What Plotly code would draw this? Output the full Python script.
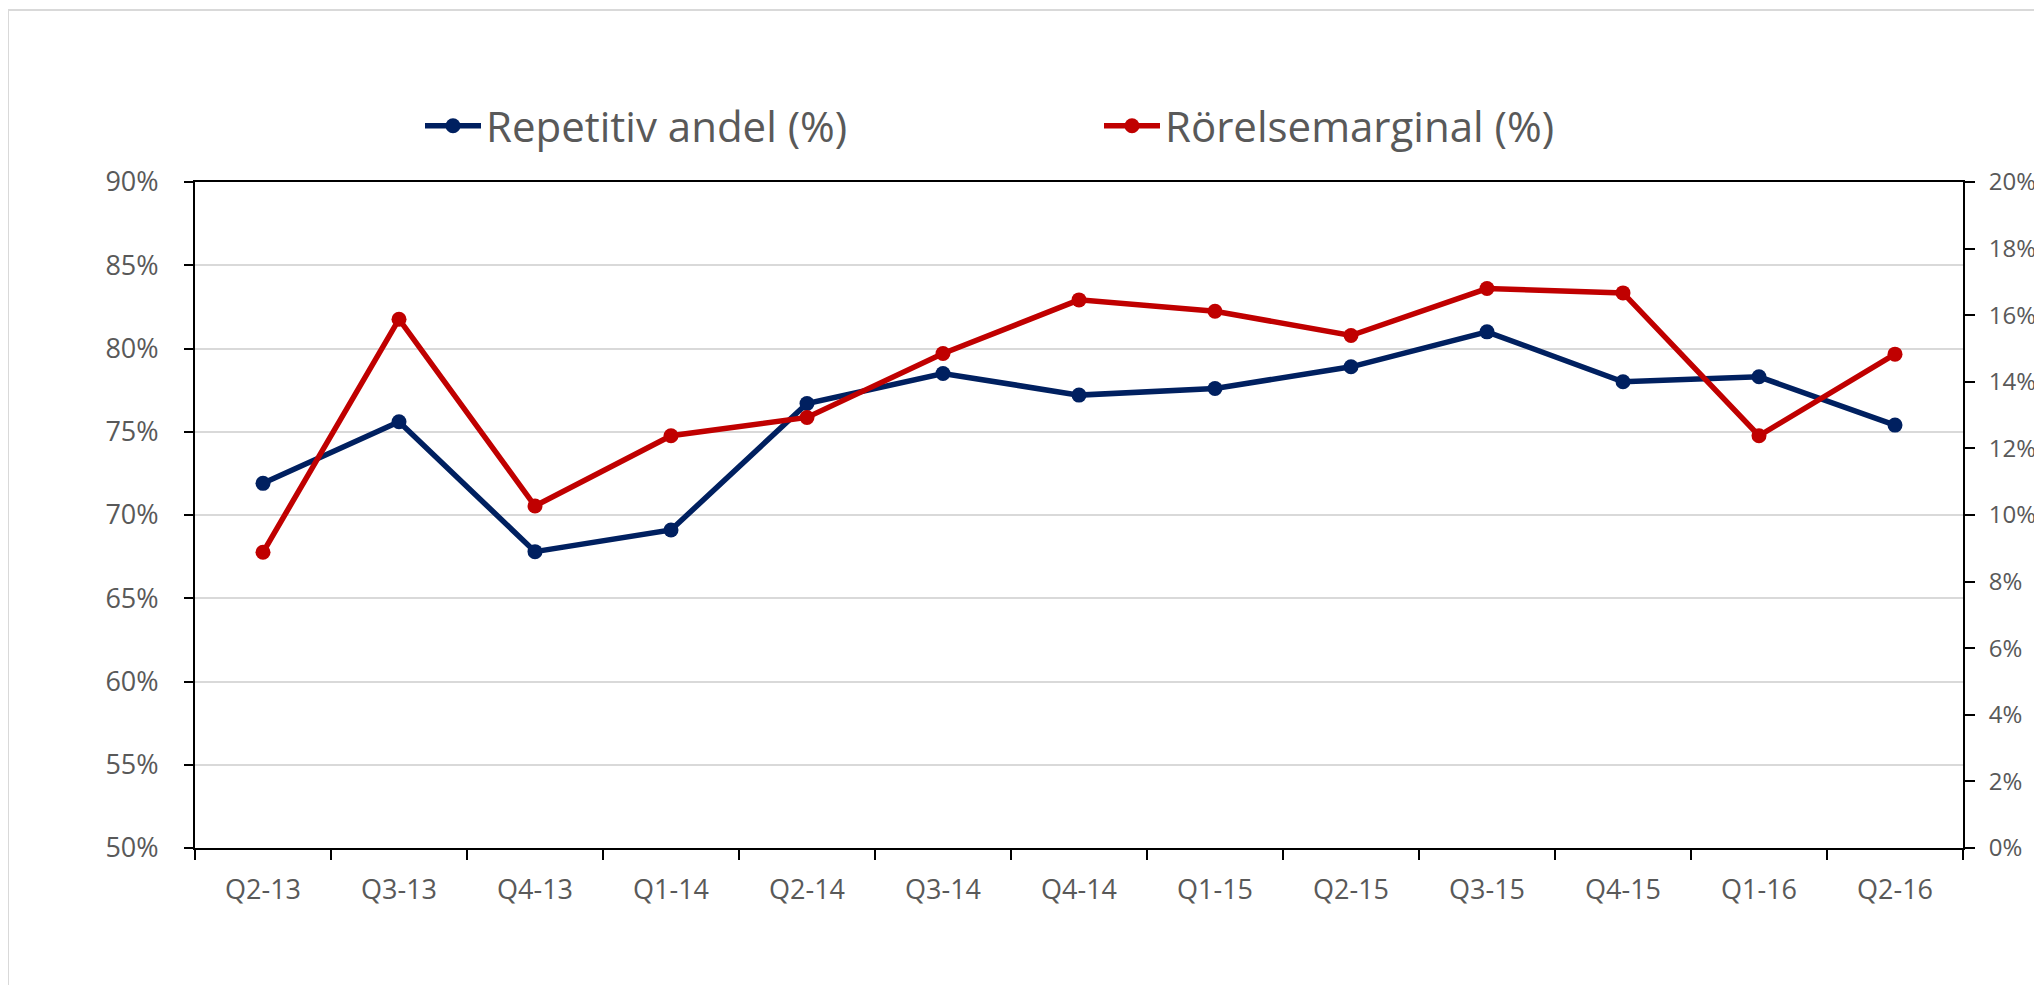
import plotly.graph_objects as go

quarters = ["Q2-13", "Q3-13", "Q4-13", "Q1-14", "Q2-14", "Q3-14", "Q4-14",
            "Q1-15", "Q2-15", "Q3-15", "Q4-15", "Q1-16", "Q2-16"]
repetitiv_andel = [0.719, 0.756, 0.678, 0.691, 0.767, 0.785, 0.772,
                   0.776, 0.789, 0.810, 0.780, 0.783, 0.754]
rorelsemarginal = [0.0888, 0.1588, 0.1027, 0.1238, 0.1293, 0.1485, 0.1646,
                   0.1612, 0.1539, 0.1680, 0.1667, 0.1238, 0.1483]

BLUE = "#002060"
RED = "#C00000"
TXT = "#595959"
FONT = "Open Sans"

fig = go.Figure()
fig.add_trace(go.Scatter(
    x=quarters, y=repetitiv_andel, name="Repetitiv andel (%)",
    mode="lines+markers", line=dict(color=BLUE, width=5.5),
    marker=dict(color=BLUE, size=15), yaxis="y"))
fig.add_trace(go.Scatter(
    x=quarters, y=rorelsemarginal, name="Rörelsemarginal (%)",
    mode="lines+markers", line=dict(color=RED, width=5.5),
    marker=dict(color=RED, size=15), yaxis="y2"))

OFF = 8  # page body margin
W, H = 2042 - OFF, 985 - OFF
L, T = 195 - OFF, 182 - OFF
pw, ph = 1768, 666
R, B = W - L - pw, H - T - ph

def px(page_x):
    return (page_x - OFF - L) / pw

def py(page_y):
    return (T + ph - (page_y - OFF)) / ph

fig.update_layout(
    width=W, height=H,
    margin=dict(l=L, r=R, t=T, b=B, pad=0, autoexpand=False),
    paper_bgcolor="white", plot_bgcolor="white",
    font=dict(family=FONT, color=TXT, size=27),
    showlegend=True,
    legend=dict(orientation="h", x=px(420), xanchor="left",
                y=py(126), yanchor="middle",
                font=dict(size=42, color=TXT, family=FONT),
                entrywidth=608, entrywidthmode="pixels",
                itemwidth=56, bgcolor="rgba(0,0,0,0)"),
    xaxis=dict(type="category", range=[-0.5, len(quarters) - 0.5],
               automargin=False,
               showline=True, linecolor="black", linewidth=2,
               mirror=True, ticks="outside", tickson="boundaries",
               ticklen=10, tickcolor="black", tickwidth=2, showgrid=False,
               tickfont=dict(size=27, color=TXT, family=FONT),
               ticklabelstandoff=17, zeroline=False),
    yaxis=dict(range=[0.5, 0.9], dtick=0.05, tickformat=".0%",
               automargin=False,
               showline=True, linecolor="black", linewidth=2,
               ticks="outside", ticklen=9, tickcolor="black", tickwidth=2,
               showgrid=True, gridcolor="#d9d9d9", gridwidth=1.5,
               tickfont=dict(size=27, color=TXT, family=FONT),
               ticklabelstandoff=20, zeroline=False),
    yaxis2=dict(range=[0, 0.2], dtick=0.02, tickformat=".0%",
                overlaying="y", side="right", automargin=False,
                showline=True, linecolor="black", linewidth=2,
                ticks="outside", ticklen=10, tickcolor="black", tickwidth=2,
                showgrid=False, zeroline=False,
                tickfont=dict(size=24, color=TXT, family=FONT),
                ticklabelstandoff=9),
    shapes=[dict(type="rect", xref="paper", yref="paper",
                 x0=px(8), x1=px(2070), y0=py(1000), y1=py(10),
                 line=dict(color="#d9d9d9", width=2), layer="below")],
)

fig.write_html("out.html")
